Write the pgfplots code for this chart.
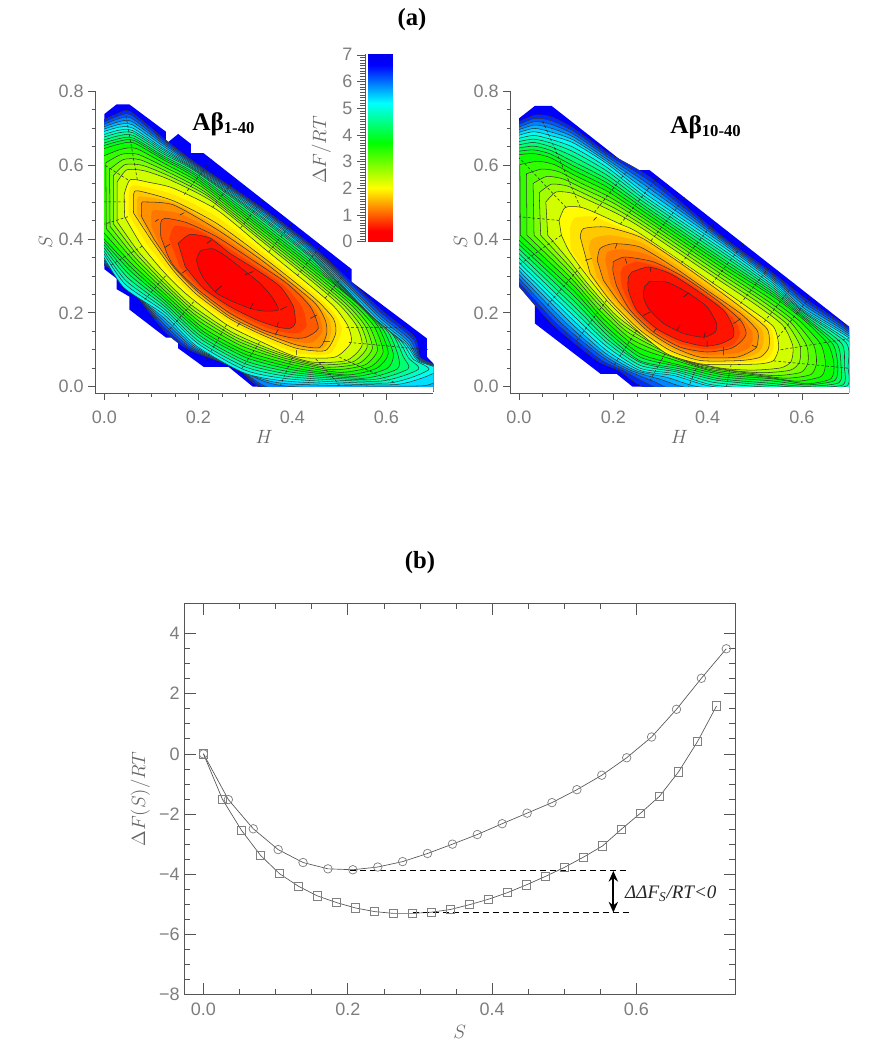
\documentclass[border=0pt]{standalone}
\usepackage{fontspec}
\setmainfont{Liberation Sans}
\newfontfamily\timesf{Liberation Serif}
\usepackage{pgfplots}
\pgfplotsset{compat=1.18}
\usetikzlibrary{arrows.meta}

% contour band colours, inside to outside
\definecolor{b1}{RGB}{255,0,0}
\definecolor{b2}{RGB}{255,20,0}
\definecolor{m3}{RGB}{255,62,0}
\definecolor{b3}{RGB}{255,90,0}
\definecolor{m4}{RGB}{255,118,0}
\definecolor{b4}{RGB}{255,145,0}
\definecolor{m5}{RGB}{255,173,0}
\definecolor{b5}{RGB}{255,201,0}
\definecolor{m6}{RGB}{255,229,0}
\definecolor{b6}{RGB}{255,252,0}
\definecolor{b7}{RGB}{210,255,0}
\definecolor{b8}{RGB}{161,255,0}
\definecolor{c30}{RGB}{124,255,0}
\definecolor{b9}{RGB}{86,255,0}
\definecolor{b10}{RGB}{49,255,0}
\definecolor{b11}{RGB}{11,255,0}
\definecolor{c40}{RGB}{0,255,30}
\definecolor{b12}{RGB}{0,255,72}
\definecolor{b13}{RGB}{0,255,115}
\definecolor{c47}{RGB}{0,255,157}
\definecolor{b14}{RGB}{0,255,200}
\definecolor{b15}{RGB}{0,255,242}
\definecolor{c55}{RGB}{0,223,255}
\definecolor{b16}{RGB}{0,178,255}
\definecolor{b17}{RGB}{0,132,255}
\definecolor{b18}{RGB}{0,87,255}
\definecolor{b19}{RGB}{0,41,255}
\definecolor{b20}{RGB}{0,0,250}
\definecolor{lab}{RGB}{125,125,125}
\definecolor{spine}{RGB}{85,85,85}

\newcommand{\ring}[2]{\addplot[draw=black!80,line width=.4pt,smooth,tension=.4,fill=#1] coordinates {#2} --cycle;}
\newcommand{\midring}[2]{\addplot[draw=none,smooth,tension=.4,fill=#1] coordinates {#2} --cycle;}

\pgfplotsset{
  panel/.style={
    scale only axis,
    axis lines=left,
    axis line style={-,spine,line width=.6pt},
    axis on top,
    tick align=outside,
    tick style={spine,line width=.5pt},
    major tick length=5pt,
    minor tick length=2.6pt,
    xmax=.7,ymin=-.0178,ymax=.8,
    xtick={0,.2,.4,.6},ytick={0,.2,.4,.6,.8},
    xticklabels={0.0,0.2,0.4,0.6},yticklabels={0.0,0.2,0.4,0.6,0.8},
    minor x tick num=3,minor y tick num=3,
    tick label style={font=\fontsize{13.5}{16}\selectfont,text=lab},
    every x tick label/.append style={yshift=-5pt},
    xlabel={$H$},ylabel={$S$},
    label style={font=\fontsize{14}{16}\selectfont,text=black!60},
    xlabel style={yshift=2pt},
    ylabel style={yshift=-2pt},
  },
  ribs/.style={black!85,line width=.4pt,unbounded coords=jump,dash pattern=on 2pt off 1.6pt},
  ticks/.style={black!85,line width=.4pt,unbounded coords=jump},
}

\begin{document}
\begin{tikzpicture}
\path[use as bounding box] (0,0) rectangle (651pt,787.5pt);

% left map
\begin{axis}[panel,at={(71.25pt,492.5pt)},anchor=south west,width=253.8pt,height=226.7pt,xmin=-.02]
\addplot[fill=b20,draw=none] coordinates {(0,.738)(.026,.764)(.053,.764)(.131,.69)(.131,.657)(.157,.684)(.184,.657)(.184,.632)(.211,.632)(.526,.318)(.526,.284)(.686,.131)(.686,.081)(.70,.063)(.70,0)(.316,0)(.264,.054)(.211,.054)(.157,.104)(.157,.133)(.131,.133)(.053,.209)(.053,.244)(.026,.264)(.026,.293)(0,.318)} --cycle;
\ring{b19}{(-.012,.716)(.026,.738)(.055,.745)(.126,.672)(.196,.604)(.338,.482)(.445,.378)(.587,.21)(.66,.135)(.672,.08)(.712,.05)(.712,-.012)(.36,-.012)(.282,.05)(.182,.099)(.126,.153)(.03,.307)(-.012,.332)}
\ring{b18}{(-.012,.71)(.027,.731)(.056,.736)(.126,.667)(.196,.601)(.338,.479)(.445,.374)(.584,.205)(.655,.132)(.671,.079)(.712,.049)(.712,-.012)(.37,-.012)(.286,.047)(.185,.101)(.126,.162)(.032,.30)(-.012,.341)}
\ring{b17}{(-.012,.704)(.028,.724)(.057,.727)(.126,.661)(.196,.598)(.338,.476)(.445,.37)(.581,.20)(.65,.128)(.67,.077)(.712,.048)(.712,-.012)(.38,-.012)(.289,.044)(.188,.103)(.126,.17)(.034,.292)(-.012,.349)}
\ring{b16}{(-.012,.698)(.028,.716)(.058,.718)(.126,.656)(.196,.595)(.338,.472)(.445,.365)(.578,.196)(.646,.124)(.669,.075)(.712,.047)(.712,-.012)(.385,.002)(.293,.042)(.19,.106)(.126,.179)(.036,.285)(-.012,.358)}
\ring{c55}{(-.012,.692)(.029,.709)(.059,.709)(.126,.65)(.196,.592)(.338,.467)(.445,.36)(.575,.191)(.643,.12)(.668,.073)(.712,.046)(.68,.003)(.39,.008)(.296,.039)(.193,.108)(.126,.187)(.038,.277)(-.012,.366)}
\ring{b15}{(-.012,.686)(.03,.702)(.06,.70)(.125,.645)(.196,.589)(.338,.463)(.445,.356)(.572,.187)(.64,.117)(.666,.071)(.712,.045)(.62,.006)(.40,.014)(.30,.036)(.196,.11)(.126,.196)(.04,.27)(-.012,.375)}
\ring{b14}{(-.012,.678)(.03,.694)(.06,.693)(.126,.64)(.196,.586)(.338,.458)(.445,.351)(.566,.193)(.631,.124)(.657,.075)(.69,.046)(.603,.01)(.402,.02)(.301,.044)(.199,.117)(.126,.204)(.043,.279)(-.012,.382)}
\ring{c47}{(-.012,.671)(.03,.687)(.061,.687)(.126,.635)(.196,.584)(.338,.454)(.445,.347)(.56,.20)(.622,.131)(.647,.078)(.668,.047)(.585,.015)(.403,.026)(.301,.053)(.201,.123)(.126,.212)(.045,.288)(-.012,.388)}
\ring{b13}{(-.012,.663)(.03,.679)(.061,.68)(.126,.63)(.196,.581)(.338,.449)(.445,.343)(.555,.206)(.613,.142)(.636,.081)(.646,.048)(.568,.019)(.405,.032)(.302,.061)(.204,.13)(.126,.22)(.048,.297)(-.012,.395)}
\ring{b12}{(-.012,.655)(.03,.671)(.061,.673)(.126,.624)(.196,.575)(.338,.442)(.445,.336)(.549,.212)(.603,.149)(.625,.084)(.623,.048)(.551,.023)(.406,.038)(.302,.069)(.206,.136)(.126,.228)(.05,.307)(-.012,.402)}
\ring{c40}{(-.012,.648)(.03,.664)(.062,.667)(.126,.619)(.196,.57)(.338,.435)(.445,.329)(.543,.219)(.593,.155)(.615,.087)(.601,.049)(.533,.028)(.408,.044)(.303,.078)(.209,.143)(.126,.236)(.053,.316)(-.012,.408)}
\ring{b11}{(-.012,.64)(.03,.656)(.062,.66)(.126,.614)(.196,.564)(.338,.428)(.445,.322)(.537,.226)(.583,.162)(.604,.09)(.579,.05)(.516,.032)(.409,.05)(.303,.086)(.211,.149)(.126,.244)(.055,.325)(-.012,.415)}
\ring{b10}{(-.004,.623)(.034,.642)(.067,.645)(.129,.603)(.202,.552)(.338,.421)(.445,.314)(.53,.224)(.574,.163)(.593,.094)(.566,.054)(.501,.039)(.399,.06)(.297,.098)(.206,.163)(.126,.254)(.058,.333)(-.004,.421)}
\ring{b9}{(.003,.606)(.037,.629)(.071,.629)(.132,.592)(.208,.54)(.338,.413)(.445,.306)(.524,.223)(.564,.163)(.581,.099)(.554,.059)(.485,.046)(.389,.07)(.291,.111)(.201,.178)(.126,.263)(.062,.342)(.004,.428)}
\ring{c30}{(.011,.588)(.041,.615)(.076,.614)(.135,.581)(.214,.527)(.338,.406)(.445,.298)(.517,.221)(.555,.164)(.57,.103)(.541,.063)(.47,.053)(.379,.079)(.285,.123)(.196,.192)(.126,.273)(.065,.35)(.012,.434)}
\ring{b8}{(.019,.571)(.044,.601)(.081,.599)(.138,.57)(.221,.515)(.338,.398)(.445,.29)(.51,.22)(.546,.164)(.559,.107)(.528,.067)(.455,.06)(.368,.089)(.278,.135)(.19,.207)(.126,.282)(.069,.358)(.019,.441)}
\ring{b7}{(.027,.554)(.048,.587)(.086,.584)(.141,.559)(.227,.503)(.338,.391)(.445,.282)(.503,.218)(.537,.164)(.548,.111)(.515,.071)(.44,.067)(.358,.099)(.272,.147)(.185,.221)(.126,.292)(.072,.366)(.027,.447)}
\ring{b6}{(.042,.52)(.055,.56)(.095,.553)(.147,.537)(.239,.479)(.338,.376)(.445,.266)(.49,.215)(.518,.165)(.525,.12)(.49,.08)(.409,.081)(.338,.119)(.26,.168)(.175,.25)(.126,.311)(.079,.383)(.043,.46)}
\midring{m6}{(.052,.465)(.052,.52)(.063,.545)(.147,.52)(.239,.46)(.338,.363)(.445,.254)(.488,.20)(.505,.155)(.48,.09)(.409,.092)(.338,.129)(.263,.176)(.185,.25)(.137,.312)(.088,.39)}
\ring{b5}{(.062,.47)(.062,.52)(.072,.53)(.147,.503)(.239,.442)(.338,.35)(.445,.242)(.487,.185)(.492,.144)(.47,.098)(.409,.104)(.338,.139)(.267,.184)(.196,.25)(.147,.314)(.098,.40)}
\midring{m5}{(.07,.465)(.07,.508)(.08,.515)(.147,.498)(.239,.434)(.338,.345)(.445,.236)(.478,.183)(.482,.144)(.464,.102)(.409,.108)(.338,.142)(.267,.187)(.196,.255)(.147,.319)(.101,.40)}
\ring{b4}{(.079,.46)(.079,.496)(.087,.50)(.147,.492)(.239,.426)(.338,.339)(.445,.23)(.47,.18)(.473,.144)(.458,.106)(.409,.113)(.338,.146)(.267,.19)(.196,.26)(.147,.324)(.105,.40)}
\midring{m4}{(.1,.433)(.1,.47)(.108,.478)(.161,.468)(.239,.416)(.324,.343)(.416,.255)(.454,.198)(.464,.151)(.443,.12)(.402,.123)(.338,.15)(.267,.195)(.196,.263)(.148,.325)(.119,.38)}
\ring{b3}{(.12,.406)(.12,.444)(.129,.456)(.175,.444)(.239,.406)(.31,.347)(.388,.28)(.438,.217)(.455,.158)(.427,.133)(.395,.133)(.338,.153)(.267,.199)(.196,.266)(.148,.326)(.133,.361)}
\midring{m3}{(.138,.40)(.15,.435)(.20,.423)(.253,.384)(.317,.331)(.381,.275)(.42,.217)(.43,.165)(.41,.145)(.37,.15)(.331,.167)(.267,.208)(.204,.266)(.16,.325)}
\ring{b2}{(.157,.388)(.182,.412)(.225,.402)(.267,.361)(.324,.316)(.374,.271)(.402,.217)(.406,.171)(.395,.158)(.37,.161)(.324,.181)(.267,.217)(.211,.266)(.172,.325)}
\ring{b1}{(.196,.343)(.205,.368)(.232,.373)(.26,.352)(.296,.316)(.331,.28)(.356,.244)(.37,.208)(.338,.205)(.31,.212)(.274,.23)(.239,.253)(.211,.293)(.199,.325)}
% downhill ticks, outer bands
\addplot[ribs] coordinates {(.17,.52)(.2285,.615)(nan,nan)(.23,.485)(.279,.564)(nan,nan)(.29,.43)(.337,.506)(nan,nan)(.35,.365)(.399,.444)(nan,nan)(.41,.30)(.461,.383)(nan,nan)(.47,.24)(.521,.323)(nan,nan)(.515,.16)(.64,.16)(nan,nan)(.52,.12)(.69,.10)(nan,nan)(.50,.08)(.62,.01)(nan,nan)(.45,.075)(.50,.005)(nan,nan)(.40,.08)(.375,.005)(nan,nan)(.33,.12)(.29,.045)(nan,nan)(.26,.168)(.215,.07)(nan,nan)(.19,.23)(.135,.15)(nan,nan)(.13,.30)(.075,.22)(nan,nan)(.08,.38)(.015,.33)(nan,nan)(.045,.5)(0,.5)(nan,nan)(.05,.46)(0,.44)(nan,nan)(.05,.56)(0,.60)(nan,nan)(.07,.56)(.045,.74)};
% downhill ticks, inner rings
\addplot[ticks] coordinates {(.218,.388)(.228,.397)(nan,nan)(.299,.303)(.317,.312)(nan,nan)(.235,.257)(.25,.273)(nan,nan)(.31,.21)(.316,.226)(nan,nan)(.388,.217)(.374,.208)(nan,nan)(.367,.161)(.37,.176)(nan,nan)(.438,.185)(.452,.194)(nan,nan)(.363,.14)(.37,.155)(nan,nan)(.161,.465)(.17,.471)(nan,nan)(.108,.447)(.115,.453)(nan,nan)(.14,.386)(.129,.377)(nan,nan)(.175,.316)(.165,.307)(nan,nan)(.282,.163)(.289,.173)(nan,nan)(.466,.122)(.48,.122)(nan,nan)(.409,.099)(.409,.086)};
\addplot[fill=white,draw=none] coordinates {(-.02,-.0178)(0,-.0178)(0,.8)(-.02,.8)} --cycle;
\addplot[fill=white,draw=none] coordinates {(-.02,-.0178)(.7,-.0178)(.7,0)(-.02,0)} --cycle;
\end{axis}

% right map
\begin{axis}[panel,at={(382.5pt,492.5pt)},anchor=south west,width=254.25pt,height=226.7pt,xmin=-.019]
\addplot[fill=b20,draw=none] coordinates {(0,.726)(.034,.76)(.069,.76)(.243,.586)(.277,.586)(.70,.163)(.70,0)(.241,0)(.207,.035)(.173,.035)(.034,.171)(.034,.243)(0,.275)} --cycle;
\ring{b19}{(-.012,.71)(.034,.735)(.069,.73)(.115,.70)(.186,.635)(.28,.565)(.434,.404)(.54,.306)(.612,.234)(.712,.145)(.712,.06)(.712,-.012)(.6,-.012)(.5,-.012)(.30,-.012)(.255,.005)(.21,.045)(.165,.071)(.07,.17)(-.012,.29)}
\ring{b18}{(-.012,.703)(.033,.726)(.068,.72)(.115,.692)(.186,.629)(.278,.556)(.434,.40)(.54,.301)(.61,.229)(.712,.14)(.712,.058)(.712,-.012)(.6,-.012)(.5,-.012)(.32,-.012)(.27,.01)(.219,.045)(.17,.076)(.079,.172)(-.012,.30)}
\ring{b17}{(-.012,.696)(.032,.717)(.068,.71)(.115,.684)(.186,.623)(.276,.547)(.434,.396)(.54,.295)(.609,.223)(.712,.135)(.712,.056)(.712,-.012)(.6,-.012)(.5,-.012)(.34,-.012)(.285,.015)(.229,.044)(.175,.082)(.088,.174)(-.012,.31)}
\ring{b16}{(-.012,.69)(.032,.708)(.067,.70)(.115,.676)(.186,.616)(.275,.538)(.434,.391)(.54,.29)(.607,.218)(.712,.13)(.712,.054)(.712,-.012)(.6,-.012)(.5,-.012)(.36,-.003)(.3,.02)(.238,.044)(.178,.087)(.097,.176)(-.012,.32)}
\ring{c55}{(-.012,.683)(.031,.699)(.066,.69)(.115,.668)(.186,.61)(.273,.529)(.434,.385)(.54,.285)(.605,.212)(.712,.125)(.712,.052)(.712,-.012)(.6,-.012)(.5,-.012)(.38,0)(.315,.025)(.247,.044)(.182,.092)(.106,.178)(-.012,.33)}
\ring{b15}{(-.012,.676)(.03,.69)(.066,.68)(.115,.66)(.186,.604)(.271,.52)(.434,.378)(.54,.279)(.604,.207)(.712,.12)(.712,.05)(.712,-.012)(.6,-.012)(.5,-.012)(.40,.003)(.33,.03)(.257,.044)(.186,.098)(.115,.18)(-.012,.34)}
\ring{b14}{(-.012,.668)(.03,.68)(.066,.67)(.115,.648)(.186,.594)(.271,.511)(.434,.37)(.54,.273)(.604,.203)(.703,.119)(.705,.052)(.704,-.002)(.602,-.008)(.507,-.006)(.406,.006)(.332,.035)(.257,.05)(.186,.109)(.115,.193)(-.012,.351)}
\ring{c47}{(-.012,.66)(.03,.67)(.066,.66)(.115,.636)(.186,.584)(.271,.503)(.434,.362)(.54,.267)(.605,.199)(.694,.119)(.698,.054)(.695,.002)(.604,-.005)(.514,0)(.412,.012)(.335,.04)(.257,.058)(.186,.12)(.115,.207)(-.012,.363)}
\ring{b13}{(-.012,.651)(.03,.661)(.066,.65)(.115,.623)(.186,.573)(.271,.494)(.434,.354)(.54,.261)(.605,.194)(.684,.118)(.69,.056)(.687,.005)(.606,-.002)(.521,.005)(.418,.018)(.337,.044)(.257,.066)(.186,.13)(.115,.22)(-.012,.375)}
\ring{b12}{(-.012,.643)(.03,.651)(.066,.64)(.115,.609)(.186,.562)(.271,.485)(.434,.345)(.54,.255)(.605,.189)(.674,.117)(.683,.058)(.679,.011)(.608,.001)(.528,.01)(.423,.022)(.339,.049)(.257,.07)(.186,.141)(.115,.234)(-.012,.387)}
\ring{c40}{(-.012,.635)(.03,.641)(.066,.63)(.115,.598)(.186,.552)(.271,.477)(.434,.337)(.54,.249)(.605,.185)(.665,.117)(.676,.06)(.67,.017)(.61,.005)(.535,.016)(.429,.027)(.341,.054)(.257,.08)(.186,.152)(.115,.248)(-.012,.399)}
\ring{b11}{(-.012,.626)(.03,.631)(.066,.62)(.115,.586)(.186,.541)(.271,.468)(.434,.329)(.54,.243)(.605,.18)(.655,.116)(.668,.062)(.662,.022)(.612,.008)(.542,.021)(.435,.032)(.343,.058)(.257,.089)(.186,.162)(.115,.261)(-.012,.41)}
\ring{b10}{(.002,.601)(.04,.61)(.075,.601)(.121,.57)(.19,.527)(.269,.46)(.431,.322)(.532,.239)(.596,.177)(.64,.115)(.65,.063)(.641,.028)(.589,.015)(.52,.027)(.418,.04)(.33,.072)(.247,.11)(.178,.185)(.114,.277)(.003,.41)}
\ring{b9}{(.016,.576)(.049,.589)(.084,.582)(.128,.553)(.194,.512)(.267,.453)(.428,.315)(.524,.235)(.586,.175)(.625,.113)(.631,.065)(.619,.033)(.566,.023)(.497,.033)(.40,.048)(.316,.085)(.237,.13)(.17,.208)(.112,.292)(.017,.41)}
\ring{c30}{(.03,.55)(.059,.569)(.094,.562)(.135,.537)(.199,.498)(.265,.445)(.425,.308)(.516,.232)(.577,.173)(.61,.112)(.613,.066)(.598,.039)(.543,.03)(.475,.039)(.383,.056)(.303,.098)(.227,.151)(.162,.232)(.11,.308)(.032,.41)}
\ring{b8}{(.043,.525)(.069,.548)(.103,.543)(.141,.521)(.203,.483)(.263,.437)(.422,.30)(.508,.228)(.568,.17)(.596,.111)(.595,.067)(.576,.045)(.519,.038)(.452,.044)(.366,.065)(.29,.112)(.216,.172)(.154,.255)(.109,.323)(.046,.41)}
\ring{b7}{(.057,.50)(.079,.527)(.112,.524)(.147,.505)(.207,.469)(.261,.429)(.419,.293)(.5,.224)(.559,.167)(.581,.11)(.577,.068)(.555,.051)(.496,.045)(.43,.05)(.349,.073)(.277,.126)(.206,.193)(.146,.278)(.108,.339)(.061,.41)}
\ring{b6}{(.085,.45)(.098,.485)(.13,.486)(.16,.472)(.215,.44)(.257,.414)(.413,.279)(.484,.216)(.54,.162)(.551,.107)(.54,.071)(.512,.062)(.45,.06)(.385,.062)(.314,.089)(.25,.153)(.186,.234)(.13,.324)(.105,.37)(.09,.41)}
\midring{m6}{(.108,.428)(.118,.457)(.158,.46)(.2,.438)(.257,.41)(.328,.352)(.406,.281)(.477,.216)(.533,.16)(.54,.107)(.526,.075)(.49,.066)(.385,.066)(.318,.093)(.254,.153)(.19,.234)(.14,.315)(.11,.37)}
\ring{b5}{(.13,.405)(.137,.428)(.186,.432)(.257,.405)(.328,.347)(.399,.283)(.47,.216)(.526,.157)(.53,.107)(.512,.08)(.47,.071)(.385,.071)(.321,.098)(.257,.153)(.193,.234)(.151,.306)}
\midring{m5}{(.148,.373)(.155,.40)(.193,.41)(.257,.392)(.328,.335)(.399,.272)(.47,.207)(.515,.155)(.518,.116)(.506,.091)(.466,.075)(.385,.075)(.324,.102)(.264,.153)(.204,.23)(.165,.297)}
\ring{b4}{(.166,.342)(.172,.374)(.2,.387)(.257,.378)(.328,.324)(.399,.261)(.47,.198)(.505,.153)(.507,.125)(.501,.103)(.462,.08)(.385,.08)(.328,.107)(.271,.153)(.215,.225)(.179,.288)}
\midring{m4}{(.183,.34)(.188,.365)(.215,.372)(.271,.358)(.338,.31)(.41,.248)(.47,.189)(.494,.15)(.495,.123)(.486,.103)(.455,.09)(.392,.087)(.335,.107)(.278,.15)(.226,.216)(.194,.28)}
\ring{b3}{(.2,.338)(.225,.351)(.285,.338)(.349,.297)(.42,.234)(.47,.18)(.482,.144)(.47,.121)(.448,.103)(.399,.094)(.342,.107)(.285,.148)(.236,.207)(.208,.27)(.199,.315)}
\midring{m3}{(.22,.324)(.25,.338)(.303,.322)(.363,.279)(.427,.22)(.462,.171)(.468,.139)(.449,.11)(.396,.102)(.342,.116)(.288,.152)(.243,.207)(.22,.265)(.215,.306)}
\ring{b2}{(.239,.31)(.275,.324)(.321,.306)(.377,.261)(.434,.207)(.454,.162)(.454,.134)(.427,.116)(.392,.11)(.342,.125)(.292,.157)(.25,.207)(.232,.261)(.232,.297)}
\ring{b1}{(.277,.285)(.314,.283)(.356,.256)(.399,.216)(.419,.171)(.416,.148)(.392,.134)(.349,.144)(.307,.171)(.275,.211)(.264,.243)(.266,.27)}
\addplot[ribs] coordinates {(.16,.472)(.226,.579)(nan,nan)(.215,.44)(.294,.568)(nan,nan)(.28,.395)(.352,.512)(nan,nan)(.345,.335)(.415,.448)(nan,nan)(.41,.28)(.476,.387)(nan,nan)(.47,.225)(.534,.329)(nan,nan)(.52,.175)(.584,.279)(nan,nan)(.55,.135)(.618,.245)(nan,nan)(.555,.10)(.70,.13)(nan,nan)(.54,.07)(.70,.05)(nan,nan)(.45,.06)(.44,0)(nan,nan)(.38,.062)(.36,0)(nan,nan)(.31,.09)(.275,.01)(nan,nan)(.25,.153)(.20,.055)(nan,nan)(.186,.234)(.12,.12)(nan,nan)(.13,.324)(.06,.22)(nan,nan)(.09,.41)(0,.33)(nan,nan)(.085,.45)(0,.46)(nan,nan)(.10,.485)(0,.62)(nan,nan)(.13,.486)(.05,.72)};
\addplot[ticks] coordinates {(.349,.243)(.36,.254)(nan,nan)(.264,.193)(.278,.202)(nan,nan)(.335,.153)(.342,.166)(nan,nan)(.392,.13)(.395,.148)(nan,nan)(.278,.324)(.28,.31)(nan,nan)(.225,.347)(.229,.333)(nan,nan)(.208,.387)(.204,.374)(nan,nan)(.158,.45)(.165,.459)(nan,nan)(.292,.157)(.285,.148)(nan,nan)(.14,.342)(.154,.347)(nan,nan)(.399,.107)(.399,.124)(nan,nan)(.434,.107)(.434,.085)(nan,nan)(.494,.112)(.505,.107)(nan,nan)(.455,.171)(.47,.184)};
\addplot[fill=white,draw=none] coordinates {(-.019,-.0178)(0,-.0178)(0,.8)(-.019,.8)} --cycle;
\addplot[fill=white,draw=none] coordinates {(-.019,-.0178)(.7,-.0178)(.7,0)(-.019,0)} --cycle;
\end{axis}

% colour bar
\begin{axis}[scale only axis,at={(273.75pt,606.2pt)},anchor=south west,width=20.25pt,height=140.8pt,
  xmin=0,xmax=27,ymin=0,ymax=7.03,
  axis y line=left,axis x line=none,axis line style={-,spine,line width=.6pt},
  tick align=outside,tick style={spine,line width=.4pt},
  major tick length=6pt,minor tick length=3.5pt,
  ytick={0,1,...,7},minor y tick num=9,
  tick label style={font=\fontsize{13.5}{16}\selectfont,text=lab},
  /pgf/number format/assume math mode=true,
  colormap={bar}{rgb255(0pt)=(255,0,0) rgb255(40pt)=(255,0,0) rgb255(200pt)=(255,255,0) rgb255(370pt)=(0,255,0) rgb255(520pt)=(0,255,255) rgb255(660pt)=(0,0,255) rgb255(703pt)=(0,0,235)},
  point meta min=0,point meta max=7.03,
]
\addplot[surf,shader=interp,mesh/cols=2,point meta=explicit] table[meta=v,row sep=\\]{
x y v\\
3 0 0\\ 27 0 0\\
3 .4 .4\\ 27 .4 .4\\
3 2 2\\ 27 2 2\\
3 3.7 3.7\\ 27 3.7 3.7\\
3 5.2 5.2\\ 27 5.2 5.2\\
3 6.6 6.6\\ 27 6.6 6.6\\
3 7.03 7.03\\ 27 7.03 7.03\\
};
\end{axis}

% one-dimensional profiles
\begin{axis}[scale only axis,at={(138.2pt,41.5pt)},anchor=south west,width=413pt,height=293.5pt,
  xmin=-.0266,xmax=.7365,ymin=-8,ymax=5,
  axis line style={spine,line width=.6pt},
  tick align=inside,tick style={spine,line width=.5pt},
  major tick length=8.5pt,minor tick length=4.5pt,
  xtick={0,.2,.4,.6},xticklabels={0.0,0.2,0.4,0.6},
  ytick={-8,-6,-4,-2,0,2,4},yticklabels={−8,−6,−4,−2,0,2,4},
  minor x tick num=3,minor y tick num=3,
  tick label style={font=\fontsize{13.5}{16}\selectfont,text=lab},
  every x tick label/.append style={yshift=-3pt},
  xlabel={$S$},ylabel={$\Delta F(S)/RT$},
  label style={font=\fontsize{14}{16}\selectfont,text=black!60},
  clip=false,
]
\addplot[spine,line width=.5pt,mark=square,mark size=3.1pt,mark options={black!50,line width=.55pt}] coordinates {
(0,0)(.0263,-1.51)(.0527,-2.54)(.079,-3.37)(.1053,-3.98)(.1317,-4.40)(.158,-4.72)(.1843,-4.94)(.2107,-5.12)(.237,-5.24)(.2633,-5.30)(.2897,-5.30)(.316,-5.26)(.3423,-5.17)(.3687,-5.01)(.395,-4.83)(.4213,-4.61)(.4477,-4.35)(.474,-4.07)(.5003,-3.77)(.5267,-3.43)(.553,-3.06)(.5793,-2.50)(.6057,-1.97)(.632,-1.41)(.6583,-.60)(.6847,.41)(.711,1.59)};
\addplot[spine,line width=.5pt,mark=o,mark size=3.2pt,mark options={black!50,line width=.55pt}] coordinates {
(0,0)(.0345,-1.52)(.069,-2.49)(.1035,-3.18)(.138,-3.61)(.1725,-3.82)(.207,-3.85)(.2415,-3.76)(.276,-3.58)(.3105,-3.31)(.345,-3.0)(.3795,-2.68)(.414,-2.32)(.4485,-1.97)(.483,-1.62)(.5175,-1.19)(.552,-.71)(.5865,-.13)(.621,.56)(.6555,1.48)(.69,2.51)(.7245,3.49)};
\addplot[black,line width=.8pt,dash pattern=on 4.5pt off 3pt] coordinates {(.203,-3.89)(.586,-3.89)};
\addplot[black,line width=.8pt,dash pattern=on 4.5pt off 3pt] coordinates {(.29,-5.27)(.593,-5.27)};
\addplot[black,line width=1.4pt,{Stealth[length=8pt,width=7pt]}-{Stealth[length=8pt,width=7pt]}] coordinates {(.568,-3.89)(.568,-5.27)};
\node[anchor=west,inner sep=0pt,font=\timesf\itshape\fontsize{14.3}{16}\selectfont,text=black!85] at (axis cs:.584,-4.64) {ΔΔF\textsubscript{S}/RT<0};
\end{axis}

% titles and panel names
\node[font=\timesf\bfseries\fontsize{18.5}{20}\selectfont] at (309pt,772.5pt) {(a)};
\node[font=\timesf\bfseries\fontsize{18.5}{20}\selectfont] at (315pt,365.25pt) {(b)};
\node[font=\timesf\bfseries\fontsize{19}{20}\selectfont,anchor=base west,inner sep=0pt] at (144pt,689.5pt) {Aβ\raisebox{-2.5pt}{\fontsize{12.5}{13}\selectfont 1-40}};
\node[font=\timesf\bfseries\fontsize{19}{20}\selectfont,anchor=base west,inner sep=0pt] at (502.5pt,687.5pt) {Aβ\raisebox{-2.5pt}{\fontsize{12.5}{13}\selectfont 10-40}};
\node[rotate=90,font=\fontsize{14}{16}\selectfont,text=black!60] at (241pt,675pt) {$\Delta F/RT$};
\end{tikzpicture}
\end{document}
